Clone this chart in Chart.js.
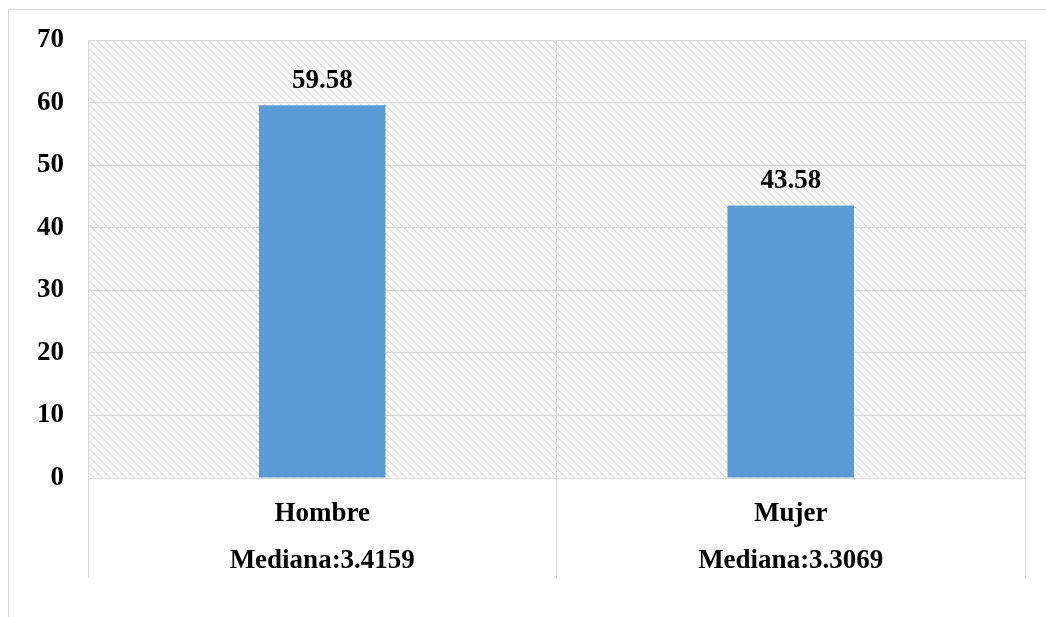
<!DOCTYPE html>
<html>
<head>
<meta charset="utf-8">
<script src="https://cdn.jsdelivr.net/npm/chart.js@4/dist/chart.umd.min.js"></script>
<style>
  body { margin: 0; background: #fff; }
  #frame { position: absolute; left: 8px; top: 9px; width: 1100px; height: 700px; border: 1px solid #d9d9d9; }
  #wrap { position: absolute; left: 0; top: 0; width: 1046px; height: 617px; }
</style>
</head>
<body>
<div id="frame"></div>
<div id="wrap"><canvas id="chart" width="1046" height="617"></canvas></div>
<script>
// categories and values
const categories = [['Hombre', 'Mediana:3.4159'], ['Mujer', 'Mediana:3.3069']];
const values = [59.58, 43.58];
const yTicks = [0, 10, 20, 30, 40, 50, 60, 70];

const FONT = { family: '"Liberation Serif", "Times New Roman", serif', size: 27, weight: 'bold' };
const GRID = '#d9d9d9';

// Excel-like "wide downward diagonal" fill for the plot area
function makeHatch() {
  const c = document.createElement('canvas');
  c.width = 8; c.height = 8;
  const g = c.getContext('2d');
  g.fillStyle = '#fff';
  g.fillRect(0, 0, 8, 8);
  for (let i = 0; i < 8; i++) {
    g.fillStyle = '#dcdcdc';
    g.fillRect(i, i, 1, 1);
    g.fillStyle = '#ececec';
    g.fillRect((i + 1) % 8, i, 1, 1);
  }
  return g.createPattern(c, 'repeat');
}

const hatchBg = {
  id: 'hatchBg',
  beforeDraw(chart) {
    const { ctx, chartArea: a } = chart;
    ctx.save();
    ctx.fillStyle = makeHatch();
    ctx.fillRect(a.left, a.top, a.right - a.left, a.bottom - a.top);
    ctx.restore();
  }
};

const valueLabels = {
  id: 'valueLabels',
  afterDatasetsDraw(chart) {
    const { ctx } = chart;
    ctx.save();
    ctx.font = `${FONT.weight} ${FONT.size}px ${FONT.family}`;
    ctx.fillStyle = '#000';
    ctx.textAlign = 'center';
    ctx.textBaseline = 'alphabetic';
    chart.getDatasetMeta(0).data.forEach((bar, i) => {
      ctx.fillText(values[i].toFixed(2), bar.x, bar.y - 17);
    });
    ctx.restore();
  }
};

new Chart(document.getElementById('chart'), {
  type: 'bar',
  data: {
    labels: categories,
    datasets: [{
      data: values,
      backgroundColor: '#5B9BD5',
      borderWidth: 0,
      barPercentage: 0.27,
      categoryPercentage: 1
    }]
  },
  options: {
    responsive: false,
    animation: false,
    layout: { padding: { left: 0, top: 40, right: 21, bottom: 39 } },
    plugins: { legend: { display: false }, tooltip: { enabled: false } },
    scales: {
      y: {
        min: 0,
        max: 70,
        afterBuildTicks: s => { s.ticks = yTicks.map(v => ({ value: v })); },
        afterFit: s => { s.width = 88; },
        ticks: { color: '#000', font: FONT, padding: 24 },
        grid: { color: GRID, lineWidth: 1, drawTicks: false },
        border: { color: GRID, width: 1 }
      },
      x: {
        afterFit: s => { s.height = 100; },
        ticks: { color: '#000', font: { ...FONT, lineHeight: 1.75 }, padding: -88 },
        grid: { color: GRID, lineWidth: 1, tickLength: 100, offset: true },
        border: { color: GRID, width: 1 }
      }
    }
  },
  plugins: [hatchBg, valueLabels]
});
</script>
</body>
</html>
